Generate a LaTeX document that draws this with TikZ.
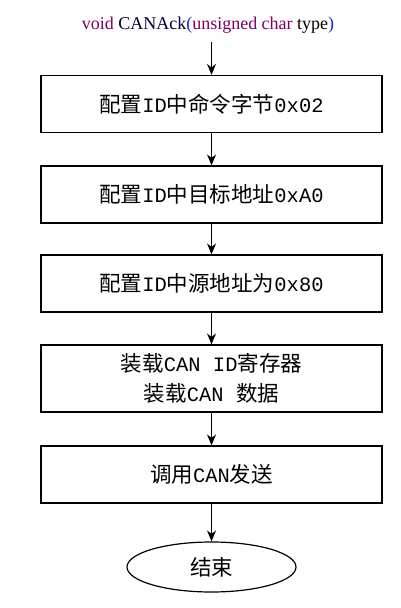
\documentclass[tikz,border=0pt]{standalone}
\usepackage{fontspec}
\setmainfont{Liberation Serif}
\newfontfamily\cjk{Noto Sans CJK SC}
\newfontfamily\asc{Liberation Mono}[Scale=0.95]
\usetikzlibrary{arrows.meta,shapes.geometric}
\definecolor{kw}{RGB}{128,0,100}
\definecolor{fn}{RGB}{0,0,50}
\definecolor{par}{RGB}{30,30,220}
\begin{document}
\begin{tikzpicture}[x=1pt,y=-1pt,
  stepbox/.style={draw,line width=1.2pt,minimum width=341pt,minimum height=57pt,inner sep=0pt,font=\fontsize{21.5}{30}\selectfont\cjk,align=center},
  endbox/.style={draw,ellipse,line width=1.2pt,minimum width=169pt,minimum height=50pt,inner sep=0pt,font=\fontsize{21.5}{30}\selectfont\cjk},
  flow/.style={-{Stealth[length=11pt,width=9pt]},line width=1.2pt}]
\useasboundingbox (0,0) rectangle (401,608);
\node[inner sep=0pt,font=\fontsize{18}{20}\selectfont] (title) at (208,25)
  {\textcolor{kw}{void} \textcolor{fn}{CANAck}\textcolor{par}{(}\textcolor{kw}{unsigned char} type\textcolor{par}{)}};
\coordinate (tb) at (211.5,42);
\node[stepbox] (b1) at (211.5,104) {配置{\asc ID}中命令字节{\asc 0x02}};
\node[stepbox] (b2) at (211.5,194.5) {配置{\asc ID}中目标地址{\asc 0xA0}};
\node[stepbox] (b3) at (211.5,283.5) {配置{\asc ID}中源地址为{\asc 0x80}};
\node[stepbox,minimum height=67pt] (b4) at (211.5,378.5) {装载{\asc CAN ID}寄存器\\装载{\asc CAN }数据};
\node[stepbox] (b5) at (211.5,474.5) {调用{\asc CAN}发送};
\node[endbox] (e) at (211.5,567) {结束};
\draw[flow] (tb) -- (b1);
\draw[flow] (b1) -- (b2);
\draw[flow] (b2) -- (b3);
\draw[flow] (b3) -- (b4);
\draw[flow] (b4) -- (b5);
\draw[flow] (b5) -- (e);
\end{tikzpicture}
\end{document}
